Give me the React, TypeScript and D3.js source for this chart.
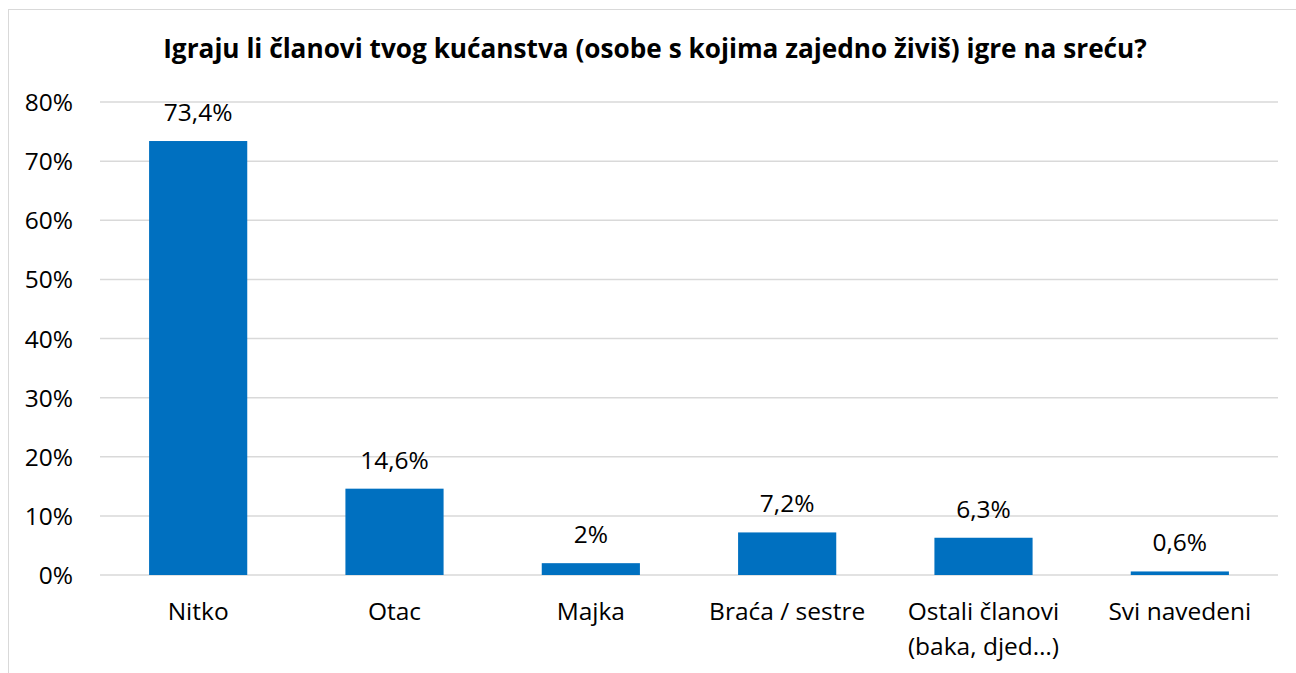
import React from "react";
import * as d3 from "d3";

const categories = ["Nitko", "Otac", "Majka", "Braća / sestre", "Ostali članovi\n(baka, djed…)", "Svi navedeni"];
const values = [73.4, 14.6, 2, 7.2, 6.3, 0.6];
const valueLabels = ["73,4%", "14,6%", "2%", "7,2%", "6,3%", "0,6%"];
const yTicks = [0, 10, 20, 30, 40, 50, 60, 70, 80];
const title = "Igraju li članovi tvog kućanstva (osobe s kojima zajedno živiš) igre na sreću?";

export default function App() {
  const W = 1296, H = 673;
  const left = 100, right = 1278, top = 102, bottom = 575;
  const x = d3.scaleBand().domain(categories).range([left, right]).paddingInner(0.5).paddingOuter(0.25);
  const y = d3.scaleLinear().domain([0, 80]).range([bottom, top]);
  const font = "'Open Sans', sans-serif";
  return (
    <svg width={W} height={H} style={{ position: "absolute", left: 0, top: 0 }} fontFamily={font}>
      <rect x={0} y={0} width={W} height={H} fill="#fff" />
      <rect x={8.5} y={9.5} width={W + 20} height={H + 20} fill="none" stroke="#d9d9d9" strokeWidth={1} />
      <text x={655} y={58} textAnchor="middle" fontSize={26.2} fontWeight="bold" fill="#000">{title}</text>
      {yTicks.map(t => (
        <g key={t}>
          <line x1={left} x2={right} y1={y(t)} y2={y(t)} stroke="#d9d9d9" strokeWidth={1.5} />
          <text x={73} y={y(t) + 9} textAnchor="end" fontSize={24.5} fill="#000">{t}%</text>
        </g>
      ))}
      {categories.map((c, i) => {
        const bx = x(c)!;
        const cx = bx + x.bandwidth() / 2;
        const lines = c.split("\n");
        return (
          <g key={c}>
            <rect x={bx} y={y(values[i])} width={x.bandwidth()} height={bottom - y(values[i])} fill="#0070C0" />
            <text x={cx} y={y(values[i]) - 20} textAnchor="middle" fontSize={24.5} fill="#000">{valueLabels[i]}</text>
            {lines.map((l, j) => (
              <text key={j} x={cx} y={620 + j * 35} textAnchor="middle" fontSize={24.5} fill="#000">{l}</text>
            ))}
          </g>
        );
      })}
    </svg>
  );
}
